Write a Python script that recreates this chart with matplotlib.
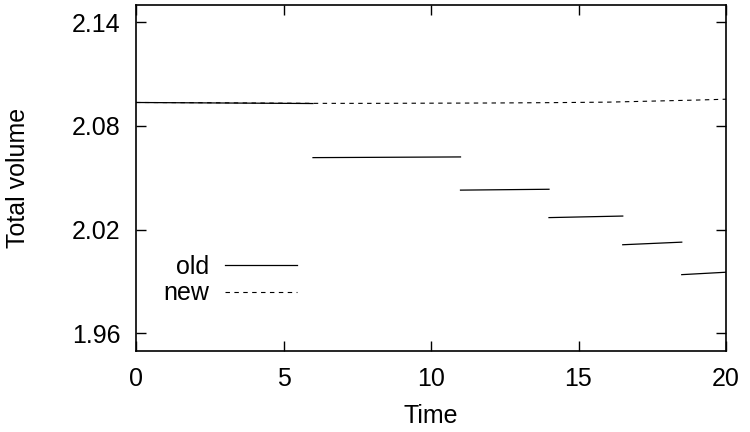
import matplotlib
matplotlib.use("Agg")
import matplotlib.pyplot as plt

# Data
old_t = [[0, 6], [6, 11], [11, 14], [14, 16.5], [16.5, 18.5], [18.5, 20]]
old_v = [[2.0936, 2.0930], [2.0617, 2.0621], [2.0429, 2.0434],
         [2.0270, 2.0279], [2.0113, 2.0128], [1.9940, 1.9954]]
new_t = [0, 2, 4, 6, 8, 10, 12, 14, 16, 17, 18, 19, 20]
new_v = [2.0936, 2.0935, 2.0933, 2.0931, 2.0931, 2.0932, 2.0933, 2.0935,
         2.0938, 2.0942, 2.0946, 2.0950, 2.0955]
xticks = [0, 5, 10, 15, 20]
yticks = [1.96, 2.02, 2.08, 2.14]

FS = 18
plt.rcParams['font.family'] = ['Liberation Sans', 'DejaVu Sans']
plt.rcParams['font.size'] = FS

fig = plt.figure(figsize=(7.5, 4.32), dpi=100)
ax = fig.add_axes([136/750, 1-350.7/432, 590/750, 345.7/432])

ax.plot(new_t, new_v, color='black', lw=0.8, dashes=(4, 4), label='new', zorder=2)
for i, (t, v) in enumerate(zip(old_t, old_v)):
    ax.plot(t, v, color='black', lw=0.9, label='old' if i == 0 else None, zorder=3)

ax.set_xlim(0, 20)
ax.set_ylim(1.95, 2.15)
ax.set_xticks(xticks)
ax.set_xticklabels([str(x) for x in xticks])
ax.set_yticks(yticks)
ax.set_yticklabels([f"{y:.2f}" for y in yticks])
ax.tick_params(direction='in', length=7, width=1, top=True, right=True, labelsize=FS)
ax.tick_params(axis='y', pad=11)
ax.tick_params(axis='x', pad=12)
for s in ax.spines.values():
    s.set_linewidth(1.2)

ax.set_xlabel('Time', fontsize=FS, labelpad=9)
ax.set_ylabel('Total volume', fontsize=FS, labelpad=30)

h, l = ax.get_legend_handles_labels()
order = [l.index('old'), l.index('new')]
leg = ax.legend([h[i] for i in order], [l[i] for i in order], loc='upper right',
                bbox_to_anchor=((297-136)/590, (350.7-255)/345.7), frameon=False,
                markerfirst=False, handlelength=2.9, handletextpad=0.6,
                borderpad=0, borderaxespad=0, labelspacing=0.1, fontsize=FS)

fig.savefig('out.png', dpi=100)
